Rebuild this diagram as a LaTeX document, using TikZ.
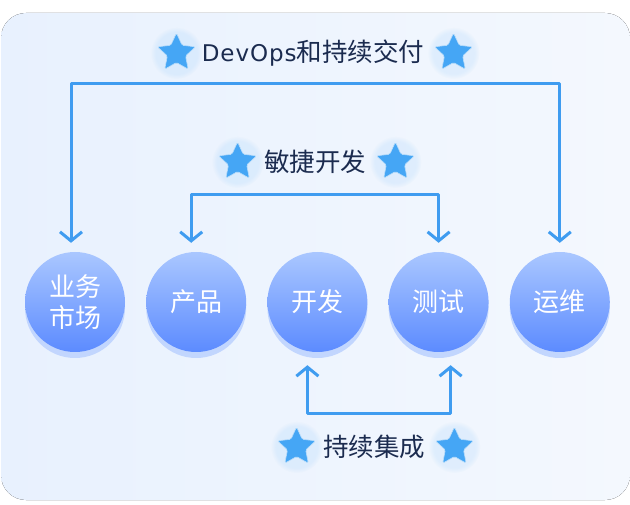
\documentclass[tikz,border=0pt]{standalone}
\usepackage{fontspec}
\setmainfont{Noto Sans CJK SC}
\newfontfamily\latinfont[LetterSpace=4]{DejaVu Sans}
\usetikzlibrary{positioning,shapes.geometric,arrows.meta,shadows,fadings}

\definecolor{cardleft}{HTML}{E8F1FE}
\definecolor{cardright}{HTML}{F4F8FE}
\definecolor{balltop}{HTML}{AAC7FF}
\definecolor{ballbottom}{HTML}{5C8BFF}
\definecolor{ballshade}{HTML}{C2D6FE}
\definecolor{flow}{HTML}{3F9CF0}
\definecolor{starblue}{HTML}{45A6F5}
\definecolor{ink}{HTML}{1B2B4F}

\tikzstyle{stage} = [circle, minimum size=100pt, inner sep=0pt, draw=none,
    top color=balltop, bottom color=ballbottom, text=white, align=center,
    font=\fontsize{26}{31}\selectfont,
    drop shadow={shadow xshift=0pt, shadow yshift=-6pt, fill=ballshade, opacity=1}]
\tikzstyle{line} = [draw=flow, line width=3pt, line cap=round, line join=round,
    {Straight Barb[length=9pt,width=22pt]}-{Straight Barb[length=9pt,width=22pt]}]
\tikzstyle{title} = [text=ink, font=\fontsize{25.5}{30}\selectfont, inner sep=0pt]
\tikzstyle{spark} = [star, star points=5, star point ratio=2.1, fill=starblue,
    draw=white!70!starblue, line width=0.6pt, rounded corners=1.5pt,
    minimum size=40pt, inner sep=0pt]
\tikzstyle{glow} = [fill=starblue, opacity=0.1, path fading=circle with fuzzy edge 20 percent]

\begin{document}
\begin{tikzpicture}[x=1pt, y=-1pt, node distance=20.8pt]
    \useasboundingbox (0,0) rectangle (630,505);
    % card
    \fill[left color=cardleft, right color=cardright, rounded corners=25pt] (1,13) rectangle (630,500);

    % Place nodes
    \node [stage] at (75,302) (market) {业务\\市场};
    \node [stage, right=of market] (product) {产品};
    \node [stage, right=of product] (dev) {开发};
    \node [stage, right=of dev] (test) {测试};
    \node [stage, right=of test] (ops) {运维};

    \node [title] at (313,53) (devops) {{\latinfont\fontsize{23}{30}\selectfont DevOps}和持续交付};
    \node [title] at (315,162) (agile) {敏捷开发};
    \node [title] at (374,447) (ci) {持续集成};

    \node [spark, left=12.5pt of devops] (devopsl) {};
    \node [spark, right=16.5pt of devops] (devopsr) {};
    \node [spark, left=13.5pt of agile] (agilel) {};
    \node [spark, right=16.5pt of agile] (agiler) {};
    \node [spark, left=13.5pt of ci] (cil) {};
    \node [spark, right=16.5pt of ci] (cir) {};
    \foreach \s in {devopsl,devopsr,agilel,agiler,cil,cir}
        \fill[glow] (\s) circle (26pt);

    % connectors
    \coordinate (marketin) at ([xshift=-4pt,yshift=9pt]market.north);
    \coordinate (opsin) at ([yshift=9pt]ops.north);
    \coordinate (productin) at ([xshift=-5pt,yshift=9pt]product.north);
    \coordinate (testin) at ([yshift=9pt]test.north);
    \coordinate (devout) at ([xshift=-10pt,yshift=-13pt]dev.south);
    \coordinate (testout) at ([xshift=12pt,yshift=-13pt]test.south);

    \draw[line] (marketin) -- ++(0,-159) -| (opsin);
    \draw[line] (productin) -- ++(0,-48) -| (testin);
    \draw[line] (devout) -- ++(0,48) -| (testout);

\end{tikzpicture}
\end{document}
